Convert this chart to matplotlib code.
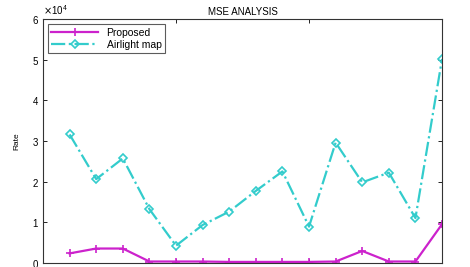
import matplotlib
matplotlib.use("Agg")
import matplotlib.pyplot as plt
from matplotlib.ticker import ScalarFormatter

# Data (values in units of 1e4)
frames = list(range(1, 16))
proposed = [0.23, 0.35, 0.35, 0.03, 0.03, 0.03, 0.02, 0.02, 0.02, 0.02,
            0.03, 0.29, 0.03, 0.03, 0.95]
airlight = [3.16, 2.06, 2.57, 1.32, 0.42, 0.93, 1.26, 1.77, 2.25, 0.89,
            2.96, 1.98, 2.22, 1.10, 5.02]
yticks = [0, 1, 2, 3, 4, 5, 6]

plt.rcParams['font.family'] = ['Liberation Sans', 'DejaVu Sans']

fig = plt.figure(figsize=(4.7, 2.67), dpi=100)
ax = fig.add_axes([0.0915, 0.016, 0.849, 0.912])

ax.plot(frames, [v * 1e4 for v in proposed], color='#cc22cc', lw=1.6,
        marker='+', ms=6, mew=1.2, label='Proposed')
ax.plot(frames, [v * 1e4 for v in airlight], color='#33cccc', lw=1.6,
        ls='-.', marker='D', ms=4, mfc='none', mew=1.2, label='Airlight map')

ax.set_xlim(0, 15)
ax.set_ylim(0, 6e4)
ax.set_xticks([0, 5, 10, 15])
ax.set_xticklabels([])
ax.set_yticks([v * 1e4 for v in yticks])

fmt = ScalarFormatter(useMathText=True)
fmt.set_powerlimits((0, 0))
ax.yaxis.set_major_formatter(fmt)
ax.yaxis.get_offset_text().set_fontsize(7)

ax.tick_params(direction='in', top=True, right=True, labelsize=7,
               length=3, width=0.6, pad=3)
for s in ax.spines.values():
    s.set_linewidth(0.8)
    s.set_color('#333333')

ax.set_title('MSE ANALYSIS', fontsize=7, pad=3)
ax.set_ylabel('Rate', fontsize=6, labelpad=8)

leg = ax.legend(loc='upper left', fontsize=7.5, frameon=True, fancybox=False,
                edgecolor='#333333', handlelength=4.5, borderpad=0.3,
                labelspacing=0.2, borderaxespad=0.5)
leg.get_frame().set_linewidth(0.8)

fig.savefig('out.png', dpi=100)
